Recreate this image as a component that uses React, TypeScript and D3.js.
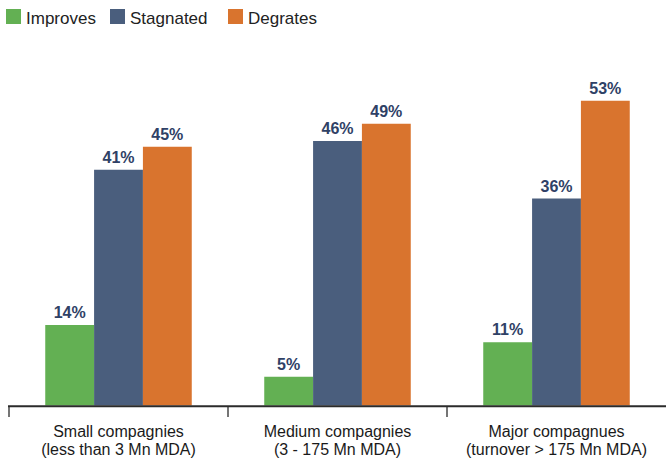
import React from "react";
import * as d3 from "d3";

// Company size groups, two label lines each
const categories = ["small", "medium", "major"];
const categoryLine1 = ["Small compagnies", "Medium compagnies", "Major compagnues"];
const categoryLine2 = ["(less than 3 Mn MDA)", "(3 - 175 Mn MDA)", "(turnover > 175 Mn MDA)"];

// Series (percent of companies)
const seriesNames = ["Improves", "Stagnated", "Degrates"];
const improves = [14, 5, 11];
const stagnated = [41, 46, 36];
const degrates = [45, 49, 53];
const seriesValues = [improves, stagnated, degrates];
const seriesColors = ["#63b053", "#4a5e7d", "#d9742e"];

const W = 666;
const H = 462;
const BASE_Y = 405.5;

export default function App() {
  const x0 = d3
    .scaleBand<string>()
    .domain(categories)
    .range([9, 666])
    .paddingInner(0.331)
    .paddingOuter(0.1655);

  const x1 = d3
    .scaleBand<string>()
    .domain(seriesNames)
    .range([0, x0.bandwidth()]);

  const y = d3.scaleLinear().domain([0, 60]).range([BASE_Y, BASE_Y - 60 * 5.75]);

  const step = x0.step();
  const gap = step - x0.bandwidth();
  const tickXs = categories.map((c) => (x0(c) as number) - gap / 2);

  const font = "'Liberation Sans', Arial, sans-serif";

  // legend item positions
  const legendX = [6, 110, 228];

  return (
    <svg
      width={W}
      height={H}
      style={{ position: "fixed", left: 0, top: 0, background: "#fff" }}
      fontFamily={font}
    >
      {/* legend */}
      {seriesNames.map((name, i) => (
        <g key={name} transform={`translate(${legendX[i]},9)`}>
          <rect width={15} height={15} fill={seriesColors[i]} />
          <text x={20} y={14.5} fontSize={17} fill="#222">
            {name}
          </text>
        </g>
      ))}

      {/* bars and value labels */}
      {categories.map((c, ci) => (
        <g key={c} transform={`translate(${x0(c)},0)`}>
          {seriesNames.map((s, si) => {
            const v = seriesValues[si][ci];
            const bx = x1(s) as number;
            const top = y(v);
            return (
              <g key={s}>
                <rect
                  x={bx}
                  y={top}
                  width={x1.bandwidth()}
                  height={BASE_Y - top}
                  fill={seriesColors[si]}
                />
                <text
                  x={bx + x1.bandwidth() / 2}
                  y={top - 7}
                  textAnchor="middle"
                  fontSize={16}
                  fontWeight="bold"
                  fill="#2f4166"
                >
                  {`${v}%`}
                </text>
              </g>
            );
          })}
        </g>
      ))}

      {/* axis */}
      <line x1={8} x2={W} y1={406.3} y2={406.3} stroke="#2b2b2b" strokeWidth={2} />
      {tickXs.map((tx, i) => (
        <line key={i} x1={tx} x2={tx} y1={406} y2={417} stroke="#2b2b2b" strokeWidth={1.3} />
      ))}

      {/* category labels */}
      {categories.map((c, ci) => {
        const cx = (x0(c) as number) + x0.bandwidth() / 2;
        return (
          <text key={c} textAnchor="middle" fontSize={16} fill="#1a1a1a">
            <tspan x={cx} y={437.3}>
              {categoryLine1[ci]}
            </tspan>
            <tspan x={cx} y={455}>
              {categoryLine2[ci]}
            </tspan>
          </text>
        );
      })}
    </svg>
  );
}
